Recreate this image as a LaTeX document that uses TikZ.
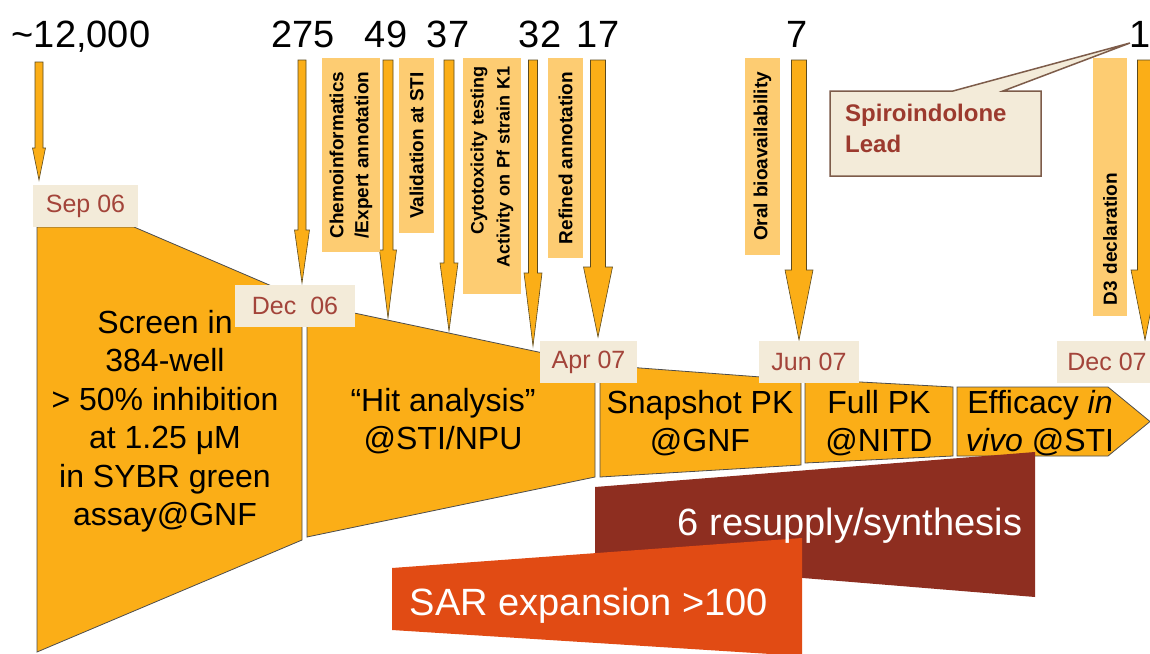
\documentclass[tikz,border=0pt]{standalone}
\usepackage{fontspec}
\setmainfont{Liberation Sans}
\definecolor{funnel}{HTML}{FBAE17}
\definecolor{labelbg}{HTML}{FDCC72}
\definecolor{datebg}{HTML}{F3EBD9}
\definecolor{datetx}{HTML}{A3443A}
\definecolor{darkred}{HTML}{8E2E20}
\definecolor{sarc}{HTML}{E14B14}
\definecolor{callbd}{HTML}{7D5C4A}
\definecolor{calltx}{HTML}{9C3A2E}
\definecolor{edgec}{HTML}{4D4D4D}
\definecolor{arrowbd}{HTML}{5C4A1E}
\newcommand{\vdownarrow}[6]{%
  \filldraw[arrowsty] (#1-#5,#2) -- (#1+#5,#2) -- (#1+#5,#3) -- (#1+#6,#3) -- (#1,#4) -- (#1-#6,#3) -- (#1-#5,#3) -- cycle;}
\begin{document}
\begin{tikzpicture}[x=1pt,y=-1pt,
  stage/.style={fill=funnel, draw=edgec, line width=0.8pt, line join=miter},
  stagetext/.style={font=\fontsize{32}{38.5}\selectfont, align=center, inner sep=0pt},
  datebox/.style={fill=datebg, text=datetx, font=\fontsize{25}{27}\selectfont, inner sep=0pt, minimum height=42pt},
  numlabel/.style={font=\fontsize{38}{40}\selectfont, anchor=base, inner sep=0pt},
  vlabel/.style={fill=labelbg, rotate=90, font=\bfseries\fontsize{19}{25}\selectfont, inner sep=0pt, align=center},
  arrowsty/.style={fill=funnel, draw=arrowbd, line width=0.6pt, line join=miter},
  bigtext/.style={text=white, font=\fontsize{38}{42}\selectfont, anchor=base, inner sep=0pt}]
\useasboundingbox (0,0) rectangle (1150,653);
\fill[white] (0,0) rectangle (1150,653);

% funnel stages
\filldraw[stage] (37,227) -- (134,227) -- (302,299) -- (302,540) -- (37,652) -- cycle;
\filldraw[stage] (307,303) -- (595,364) -- (595,477) -- (307,537) -- cycle;
\filldraw[stage] (600,365) -- (801,380) -- (801,465) -- (600,477) -- cycle;
\filldraw[stage] (805,379) -- (953,387) -- (953,456) -- (805,463) -- cycle;
\filldraw[stage] (957,387) -- (1108,387) -- (1150,421.5) -- (1108,456) -- (957,456) -- cycle;

% chemistry bands
\fill[darkred] (595,487) -- (1035,452) -- (1035,597) -- (595,561) -- cycle;
\fill[sarc] (392,568) -- (802,538) -- (802,656) -- (392,630) -- cycle;

\node[bigtext] (resup) at (850,535) {6 resupply/synthesis};
\node[bigtext] (sar) at (589,615) {SAR expansion >100};

% stage texts
\node[stagetext] (screen) at (165,421) {Screen in\\384-well\\> 50\% inhibition\\at 1.25 μM\\in SYBR green\\assay@GNF};
\node[stagetext] (hit) at (443,421) {“Hit analysis”\\@STI/NPU};
\node[stagetext] (snap) at (700,423) {Snapshot PK\\@GNF};
\node[stagetext] (full) at (879,423) {Full PK\\@NITD};
\node[stagetext] (eff) at (1040,423) {Efficacy \textit{in}\\\textit{vivo} @STI};

% numbers
\node[numlabel] (n1) at (81,47) {\textasciitilde12,000};
\node[numlabel] (n2) at (303,47) {275};
\node[numlabel] (n3) at (386,47) {49};
\node[numlabel] (n4) at (448,47) {37};
\node[numlabel] (n5) at (540,47) {32};
\node[numlabel] (n6) at (598,47) {17};
\node[numlabel] (n7) at (797,47) {7};
\node[numlabel] (n8) at (1140,47) {1};

% arrows
\vdownarrow{39}{62}{148}{180}{4}{6.5}
\vdownarrow{302}{60}{230}{283}{4}{7.5}
\vdownarrow{388}{60}{250}{318}{5}{8.5}
\vdownarrow{449}{60}{263}{331}{5}{9}
\vdownarrow{533}{60}{273}{346}{4.5}{9}
\vdownarrow{598}{60}{267}{337}{7.5}{14.5}
\vdownarrow{799}{60}{270}{340}{7.5}{14}
\vdownarrow{1145}{60}{270}{340}{7.5}{14}

% vertical label boxes
\node[vlabel, minimum width=194pt, minimum height=58pt] (chemo) at (351,155) {Chemoinformatics\\/Expert annotation};
\node[vlabel, minimum width=175pt, minimum height=35pt] (valid) at (416.5,145.5) {Validation at STI};
\node[vlabel, minimum width=236pt, minimum height=58pt, inner xsep=8pt, text width=220pt, align=right, font=\bfseries\fontsize{18}{26}\selectfont] (cyto) at (492,176) {Cytotoxicity testing\\Activity on Pf strain K1};
\node[vlabel, minimum width=200pt, minimum height=35pt] (refined) at (565.5,158) {Refined annotation};
\node[vlabel, minimum width=197pt, minimum height=35pt] (oral) at (762.5,156.5) {Oral bioavailability};
\node[vlabel, minimum width=258pt, minimum height=34pt, inner xsep=11pt, text width=236pt, align=left] (d3) at (1110,187) {D3 declaration};

% date boxes
\node[datebox, minimum width=105pt] (sep06) at (85.5,206) {Sep 06};
\node[datebox, minimum width=120pt] (dec06) at (295,306) {Dec\ \ 06};
\node[datebox, minimum width=97pt] (apr07) at (588.5,362) {Apr 07};
\node[datebox, minimum width=100pt] (jun07) at (809,361.5) {Jun 07};
\node[datebox, minimum width=100pt] (dec07) at (1107,361.5) {Dec 07};

% callout
\filldraw[fill=datebg, draw=callbd, line width=1.5pt, line join=miter]
  (830,91) -- (953,91) -- (1130,43) -- (1003,91) -- (1041,91) -- (1041,176) -- (830,176) -- cycle;
\node[anchor=north west, inner sep=0pt, align=left, text=calltx, font=\bfseries\fontsize{24}{31}\selectfont] (lead) at (845,104) {Spiroindolone\\Lead};
\end{tikzpicture}
\end{document}
